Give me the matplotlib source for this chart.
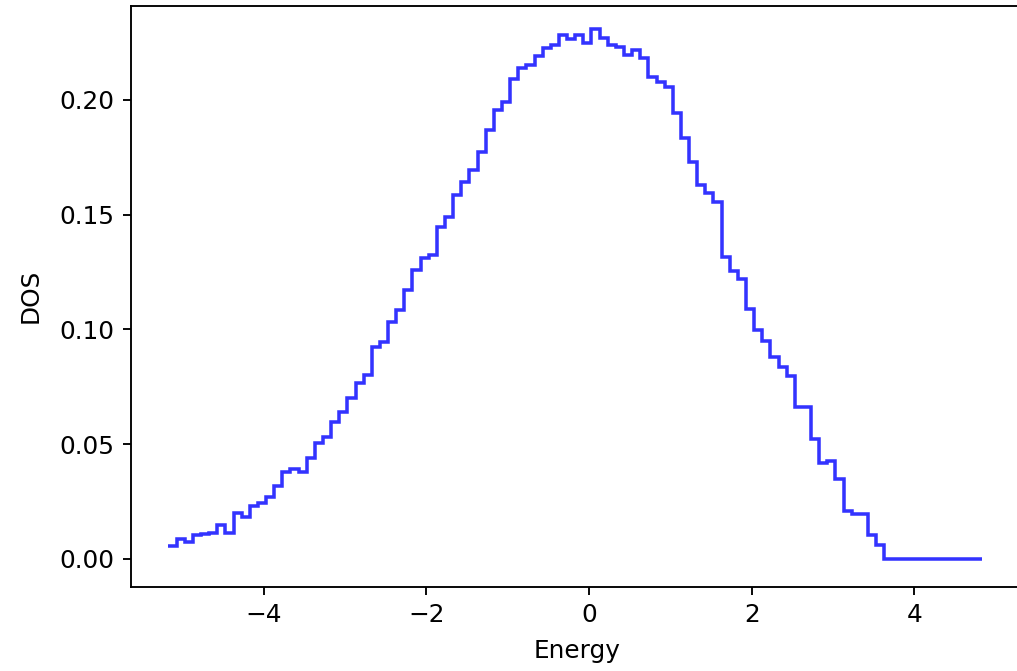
import numpy as np
import matplotlib
matplotlib.use('Agg')
from matplotlib import pyplot as plt

# Density of states, one value per energy bin.
dos = [
    0.0055, 0.0088, 0.0072, 0.0103, 0.0107, 0.0115, 0.0148, 0.0115, 0.0199, 0.0184,
    0.0230, 0.0243, 0.0272, 0.0320, 0.0380, 0.0390, 0.0380, 0.0439, 0.0504, 0.0530,
    0.0598, 0.0642, 0.0700, 0.0766, 0.0802, 0.0925, 0.0947, 0.1034, 0.1085, 0.1172,
    0.1259, 0.1310, 0.1325, 0.1448, 0.1492, 0.1586, 0.1644, 0.1695, 0.1775, 0.1869,
    0.1956, 0.1993, 0.2092, 0.2138, 0.2153, 0.2193, 0.2225, 0.2240, 0.2283, 0.2266,
    0.2283, 0.2250, 0.2310, 0.2269, 0.2240, 0.2232, 0.2196, 0.2218, 0.2182, 0.2102,
    0.2080, 0.2058, 0.1942, 0.1833, 0.1731, 0.1630, 0.1593, 0.1557, 0.1316, 0.1256,
    0.1219, 0.1088, 0.0998, 0.0951, 0.0879, 0.0838, 0.0797, 0.0661, 0.0661, 0.0522,
    0.0417, 0.0428, 0.0347, 0.0210, 0.0196, 0.0196, 0.0105, 0.0061, 0.0, 0.0,
    0.0, 0.0, 0.0, 0.0, 0.0, 0.0, 0.0, 0.0, 0.0, 0.0,
]

# Energy range covered by the bins.
E_LO = -5.17
E_HI = 4.83

edges = np.linspace(E_LO, E_HI, len(dos) + 1)

# Old 72 dpi notebook figure, blown up ~2.35x.
DPI = 169.5
plt.rcParams['font.size'] = 10.5
fig = plt.figure(figsize=(1017 / DPI, 671 / DPI), dpi=DPI)
ax = fig.add_axes([0.1285, 0.1259, 0.8774, 0.8651])

ax.stairs(dos, edges, baseline=None, color='blue', alpha=0.8, linewidth=1.5)

ax.set_xlim(-5.634, 5.335)
ax.set_ylim(-0.012, 0.2409)
ax.set_xlabel('Energy', labelpad=5)
ax.set_ylabel('DOS', labelpad=7)

fig.savefig('out.png', dpi=DPI)
